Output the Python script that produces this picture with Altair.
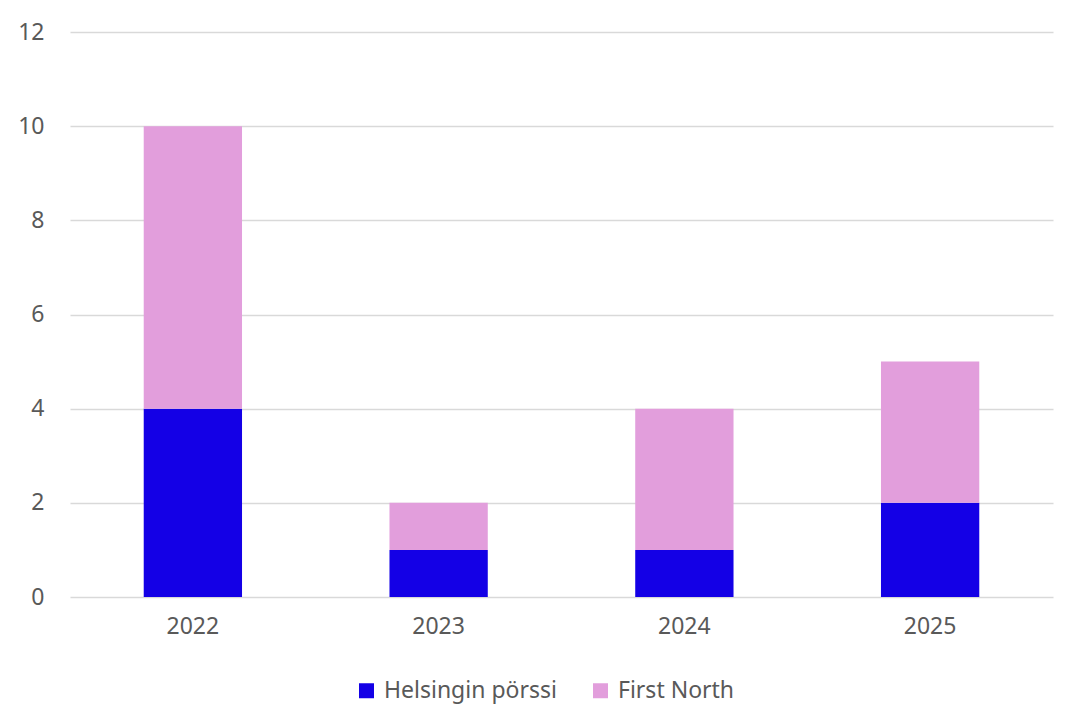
import altair as alt
import pandas as pd

years = ["2022", "2023", "2024", "2025"]
helsinki = [4, 1, 1, 2]
first_north = [6, 1, 3, 3]
series = ["Helsingin pörssi", "First North"]
colors = ["#1400E6", "#E29EDC"]

rows = []
for i, y in enumerate(years):
    rows.append({"year": y, "series": series[0], "value": helsinki[i], "ord": 0})
    rows.append({"year": y, "series": series[1], "value": first_north[i], "ord": 1})
df = pd.DataFrame(rows)

FONT = "Noto Sans"
FS = 23
chart = alt.Chart(df).mark_bar().encode(
    x=alt.X("year:N", sort=years, title=None,
            scale=alt.Scale(paddingInner=0.6, paddingOuter=0.3),
            axis=alt.Axis(labelAngle=0, ticks=False, domain=False, labelPadding=18,
                          labelFontSize=FS, labelColor="#595959", labelFont=FONT)),
    y=alt.Y("value:Q", stack="zero", title=None,
            scale=alt.Scale(domain=[0, 12]),
            axis=alt.Axis(values=[0, 2, 4, 6, 8, 10, 12], ticks=False, domain=False,
                          labelPadding=26, labelFontSize=FS, labelColor="#595959",
                          labelFont=FONT, gridColor="#d9d9d9", gridWidth=1.5)),
    color=alt.Color("series:N", sort=series,
                    scale=alt.Scale(domain=series, range=colors),
                    legend=alt.Legend(orient="none", legendX=285, legendY=647,
                                      direction="horizontal", title=None,
                                      symbolType="square", symbolSize=225,
                                      symbolStrokeWidth=0, labelFontSize=FS,
                                      labelColor="#595959", labelFont=FONT,
                                      labelLimit=400,
                                      labelOffset=6, columnPadding=32)),
    order=alt.Order("ord:Q", sort="ascending"),
).properties(
    width=983, height=565,
    padding={"left": 62, "top": 24, "right": 10, "bottom": 110},
    autosize=alt.AutoSizeParams(type="none"),
).configure_view(stroke=None)

chart.save("out.html", embed_options={"renderer": "svg", "actions": False})
